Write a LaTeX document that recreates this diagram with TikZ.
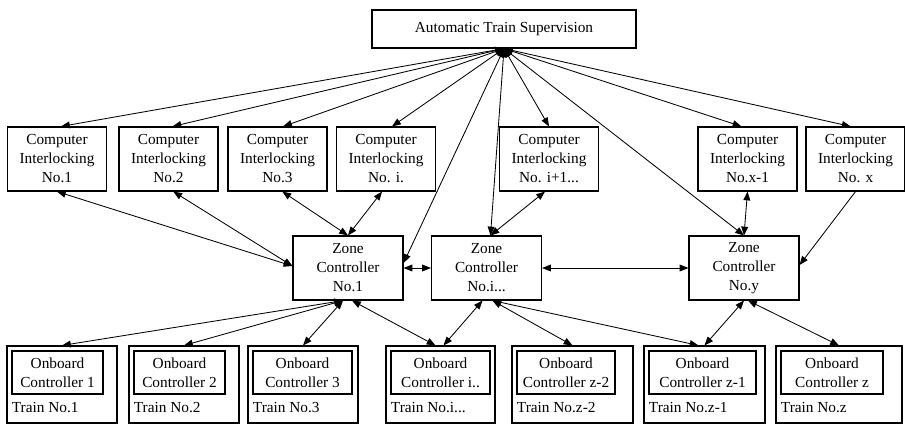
\documentclass[tikz,border=0pt]{standalone}
\usepackage{fontspec}
\setmainfont{Liberation Serif}
\usepackage{tikz}
\usetikzlibrary{positioning,arrows.meta,calc}

\begin{document}
\begin{tikzpicture}[
		x=0.25mm, y=-0.25mm,
		font=\fontsize{10.9}{13.5}\selectfont,
		box/.style={draw, line width=0.8pt, align=center, inner sep=2pt},
		ats/.style={box, minimum width=66mm, minimum height=9.5mm},
		ci/.style={box, minimum width=24.75mm, minimum height=16mm},
		zc/.style={box, minimum width=27.5mm, minimum height=16mm},
		train/.style={box, minimum height=19.25mm},
		obc/.style={box, anchor=north west, minimum height=10.75mm},
		tlabel/.style={anchor=base west, inner sep=0pt},
		arr/.style={{Triangle[length=2.2mm,width=1.7mm]}-{Triangle[length=2.2mm,width=1.7mm]}, line width=0.6pt},
		arr1/.style={-{Triangle[length=2.2mm,width=1.7mm]}, line width=0.6pt}
		]
		\useasboundingbox (0,0) rectangle (905,424);
		% ATS (top)
		\node[ats] (ats) at (504,29) {Automatic Train Supervision};
		% computer interlocking row
		\node[ci] (ci1) at (57,159) {Computer\\Interlocking\\No.1};
		\node[ci] (ci2) at (168.5,159) {Computer\\Interlocking\\No.2};
		\node[ci] (ci3) at (277.5,159) {Computer\\Interlocking\\No.3};
		\node[ci] (cii) at (386,159) {Computer\\Interlocking\\No. i.};
		\node[ci] (cii1) at (549,159) {Computer\\Interlocking\\No. i+1...};
		\node[ci] (cix1) at (747.5,159) {Computer\\Interlocking\\No.x-1};
		\node[ci] (cix) at (855.5,159) {Computer\\Interlocking\\No. x};
		% zone controllers
		\node[zc] (zc1) at (348,268) {Zone\\Controller\\No.1};
		\node[zc] (zci) at (486.5,268) {Zone\\Controller\\No.i...};
		\node[zc] (zcy) at (744,268) {Zone\\Controller\\No.y};
		% trains: outer box, onboard controller inside, label bottom left
		\node[train, minimum width=27.5mm] (t1) at (62,384.5) {};
		\node[train, minimum width=27.5mm] (t2) at (184,384.5) {};
		\node[train, minimum width=27.5mm] (t3) at (303,384.5) {};
		\node[train, minimum width=27.25mm] (ti) at (440.5,384.5) {};
		\node[train, minimum width=30.25mm] (tz2) at (572.5,384.5) {};
		\node[train, minimum width=30.25mm] (tz1) at (704.5,384.5) {};
		\node[train, minimum width=31.5mm] (tz) at (839,384.5) {};
		\node[obc, minimum width=22.75mm] (obc1) at ([shift={(1.25mm,-1.25mm)}]t1.north west) {Onboard\\Controller 1};
		\node[obc, minimum width=22.75mm] (obc2) at ([shift={(1.25mm,-1.25mm)}]t2.north west) {Onboard\\Controller 2};
		\node[obc, minimum width=24.75mm] (obc3) at ([shift={(1.25mm,-1.25mm)}]t3.north west) {Onboard\\Controller 3};
		\node[obc, minimum width=24.75mm] (obci) at ([shift={(1.25mm,-1.25mm)}]ti.north west) {Onboard\\Controller i..};
		\node[obc, minimum width=24.5mm] (obcz2) at ([shift={(1.25mm,-1.25mm)}]tz2.north west) {Onboard\\Controller z-2};
		\node[obc, minimum width=26.75mm] (obcz1) at ([shift={(1.25mm,-1.25mm)}]tz1.north west) {Onboard\\Controller z-1};
		\node[obc, minimum width=25.5mm] (obcz) at ([shift={(1.25mm,-1.25mm)}]tz.north west) {Onboard\\Controller z};
		\node[tlabel] (l1) at ([shift={(1.3mm,2.75mm)}]t1.south west) {Train No.1};
		\node[tlabel] (l2) at ([shift={(1.3mm,2.75mm)}]t2.south west) {Train No.2};
		\node[tlabel] (l3) at ([shift={(1.3mm,2.75mm)}]t3.south west) {Train No.3};
		\node[tlabel] (li) at ([shift={(1.3mm,2.75mm)}]ti.south west) {Train No.i...};
		\node[tlabel] (lz2) at ([shift={(1.3mm,2.75mm)}]tz2.south west) {Train No.z-2};
		\node[tlabel] (lz1) at ([shift={(1.3mm,2.75mm)}]tz1.south west) {Train No.z-1};
		\node[tlabel] (lz) at ([shift={(1.3mm,2.75mm)}]tz.south west) {Train No.z};
		% ATS fan-out
		\draw[arr] (ats.south) -- ([xshift=1mm]ci1.north);
		\draw[arr] (ats.south) -- ([xshift=1mm]ci2.north);
		\draw[arr] (ats.south) -- ([xshift=1.4mm]ci3.north);
		\draw[arr] (ats.south) -- ([xshift=1.5mm]cii.north);
		\draw[arr] (ats.south) -- (cii1.north);
		\draw[arr] (ats.south) -- ([xshift=-1.5mm]cix1.north);
		\draw[arr] (ats.south) -- ([xshift=-1.2mm]cix.north);
		\draw[arr] (ats.south) -- ([yshift=1.25mm]zc1.east);
		\draw[arr] (ats.south) -- ([xshift=1mm]zci.north);
		\draw[arr] (ats.south) -- (zcy.north);
		% interlocking to zone controllers
		\draw[arr] (ci1.south) -- ([yshift=0.5mm]zc1.west);
		\draw[arr] ([xshift=1.2mm]ci2.south) -- ([yshift=0.5mm]zc1.west);
		\draw[arr] ([xshift=1.2mm]ci3.south) -- (zc1.north);
		\draw[arr] ([xshift=-1mm]cii.south) -- (zc1.north);
		\draw[arr] ([xshift=-1mm]cii1.south) -- ([xshift=1mm]zci.north);
		\draw[arr] (cix1.south) -- (zcy.north);
		\draw[arr1] (cix.south) -- ([yshift=0.75mm]zcy.east);
		% zone controller chain
		\draw[arr] (zc1.east) -- (zci.west);
		\draw[arr] (zci.east) -- (zcy.west);
		% zone controllers to trains
		\draw[arr] ([xshift=-1.25mm]zc1.south) -- (t1.north);
		\draw[arr] ([xshift=-1.25mm]zc1.south) -- (t2.north);
		\draw[arr] ([xshift=-1.25mm]zc1.south) -- (t3.north);
		\draw[arr] ([xshift=1mm]zc1.south) -- ([xshift=-1.25mm]ti.north);
		\draw[arr] ([xshift=-1mm]zci.south) -- ([xshift=0.75mm]ti.north);
		\draw[arr] ([xshift=1.5mm]zci.south) -- (tz2.north);
		\draw[arr] ([xshift=1.5mm]zci.south) -- ([xshift=-1.5mm]tz1.north);
		\draw[arr] (zcy.south) -- (tz1.north);
		\draw[arr] ([xshift=1mm]zcy.south) -- (tz.north);
	\end{tikzpicture}
\end{document}
